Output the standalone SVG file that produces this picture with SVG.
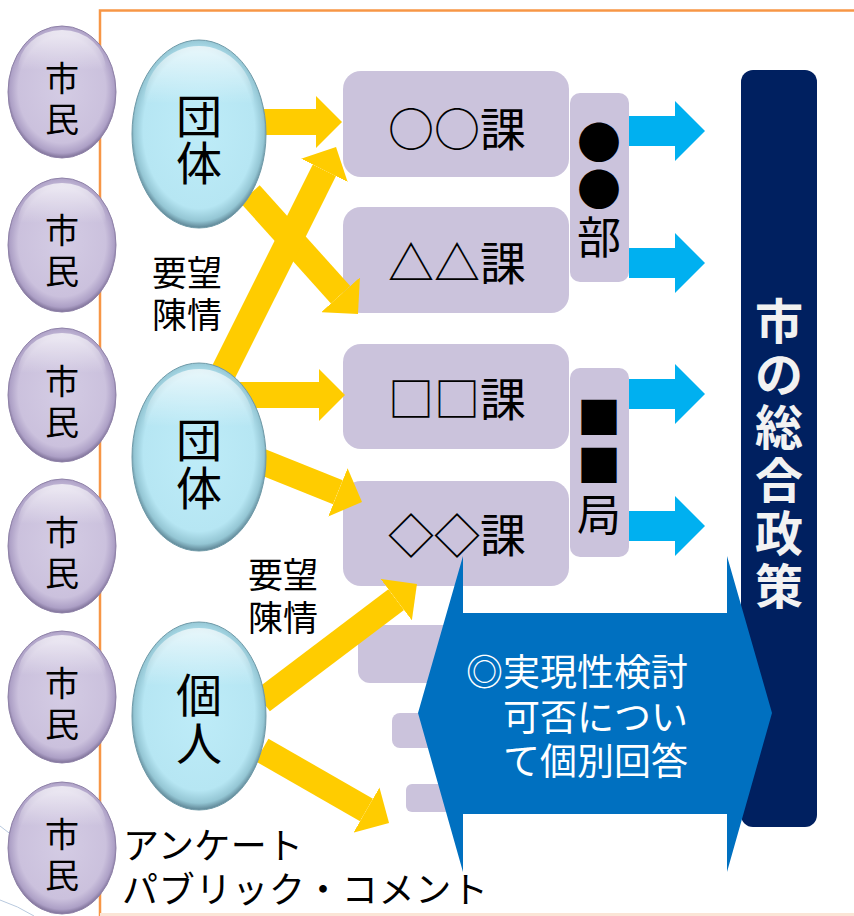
<svg xmlns="http://www.w3.org/2000/svg" width="854" height="916" viewBox="0 0 854 916">
<defs>
<style>
.t{font-family:"Noto Sans CJK JP","Noto Sans",sans-serif;text-anchor:middle;dominant-baseline:central;fill:#000}
.cit{font-size:34px}
.grp{font-size:46px}
.dep{font-size:44px}
.box{fill:#CBC3DC}
.lbl{font-size:35px}
.wt{fill:#FFFFFF;font-size:37px;text-anchor:end}
.nav{fill:#F2F2F2;font-size:48px;font-weight:bold}
.ya{stroke:#FFCC00;stroke-width:26;fill:none;marker-end:url(#yh)}
.ca{stroke:#00B0F0;stroke-width:30;fill:none;marker-end:url(#ch)}
.pe{fill:url(#gp);stroke:#8F82A8;stroke-width:1}
.ce{fill:url(#gc);stroke:#6F9AA8;stroke-width:1}
.hl{fill:url(#gh)}
</style>
<radialGradient id="gp" cx="50%" cy="48%" r="52%">
<stop offset="0" stop-color="#D4CCE4"/>
<stop offset="0.78" stop-color="#CBC1DD"/>
<stop offset="0.93" stop-color="#ADA0C6"/>
<stop offset="1" stop-color="#7D7097"/>
</radialGradient>
<radialGradient id="gc" cx="50%" cy="48%" r="52%">
<stop offset="0" stop-color="#BEECF8"/>
<stop offset="0.8" stop-color="#B6E6F3"/>
<stop offset="0.93" stop-color="#94C6D4"/>
<stop offset="1" stop-color="#5D8494"/>
</radialGradient>
<linearGradient id="gh" x1="0" y1="0" x2="0" y2="1">
<stop offset="0" stop-color="#FFFFFF" stop-opacity="0.7"/>
<stop offset="0.5" stop-color="#FFFFFF" stop-opacity="0"/>
</linearGradient>
<marker id="yh" markerUnits="userSpaceOnUse" markerWidth="26" markerHeight="52" refX="0" refY="26" orient="auto">
<path d="M0,0 L26,26 L0,52 z" fill="#FFCC00"/>
</marker>
<marker id="ch" markerUnits="userSpaceOnUse" markerWidth="30" markerHeight="60" refX="0" refY="30" orient="auto">
<path d="M0,0 L30,30 L0,60 z" fill="#00B0F0"/>
</marker>
</defs>
<rect width="854" height="916" fill="#FFFFFF"/>
<g id="frame">
<path d="M100,916 V10.5 H854" fill="none" stroke="#F79646" stroke-width="2.5"/>
<line x1="100" y1="914.5" x2="854" y2="914.5" stroke="#FBE5D6" stroke-width="3"/>
<path d="M0,826 Q15,836 30,852" fill="none" stroke="#B8C9DE" stroke-width="1"/>
<path d="M0,900 Q18,906 34,916" fill="none" stroke="#B8C9DE" stroke-width="1"/>
</g>
<g id="ghost-boxes">
<rect class="box" x="358" y="625" width="160" height="58" rx="12"/>
<rect class="box" x="392" y="713" width="130" height="35" rx="8"/>
<rect class="box" x="406" y="784" width="120" height="28" rx="6"/>
</g>
<g id="ka1"><rect class="box" x="343" y="71" width="226" height="106" rx="18"/><text class="t grp" x="457" y="126">○○課</text></g>
<g id="ka2"><rect class="box" x="343" y="207" width="226" height="106" rx="18"/><text class="t grp" x="457" y="260">△△課</text></g>
<g id="ka3"><rect class="box" x="343" y="344" width="226" height="105" rx="18"/><text class="t grp" x="457" y="396">□□課</text></g>
<g id="ka4"><rect class="box" x="343" y="481" width="226" height="105" rx="18"/><text class="t grp" x="457" y="532">◇◇課</text></g>
<g id="bu"><rect class="box" x="570" y="93" width="59" height="189" rx="10"/>
<text class="t dep" x="599" y="140">●</text>
<text class="t dep" x="599" y="187">●</text>
<text class="t dep" x="599" y="235">部</text></g>
<g id="kyoku"><rect class="box" x="570" y="368" width="59" height="189" rx="10"/>
<text class="t dep" x="599" y="415">■</text>
<text class="t dep" x="599" y="463">■</text>
<text class="t dep" x="599" y="512">局</text></g>
<g id="policy"><rect x="741" y="70" width="76" height="757" rx="12" fill="#002060"/>
<text class="t nav" x="779" y="318">市</text>
<text class="t nav" x="779" y="371">の</text>
<text class="t nav" x="779" y="424">総</text>
<text class="t nav" x="779" y="477">合</text>
<text class="t nav" x="779" y="530">政</text>
<text class="t nav" x="779" y="583">策</text></g>
<g id="answer">
<path d="M418,713 L463,556 L463,613 L727,613 L727,556 L772,713 L727,872 L727,814 L463,814 L463,872 Z" fill="#0070C0"/>
<text class="t wt" x="688" y="670">◎実現性検討</text>
<text class="t wt" x="688" y="715">可否につい</text>
<text class="t wt" x="688" y="759">て個別回答</text>
</g>
<g id="connectors">
<line class="ya" x1="250" y1="122" x2="316" y2="122"/>
<line class="ya" x1="250" y1="194" x2="340.6" y2="294.7"/>
<line class="ya" x1="222" y1="375" x2="324.4" y2="170.3"/>
<line class="ya" x1="240" y1="395" x2="319" y2="395"/>
<line class="ya" x1="255" y1="459" x2="337.9" y2="492.3"/>
<line class="ya" x1="262" y1="701" x2="396.2" y2="599.6"/>
<line class="ya" x1="262" y1="750" x2="366.5" y2="810"/>
<line class="ca" x1="629" y1="131" x2="675" y2="131"/>
<line class="ca" x1="629" y1="263" x2="675" y2="263"/>
<line class="ca" x1="629" y1="394" x2="675" y2="394"/>
<line class="ca" x1="629" y1="526" x2="675" y2="526"/>
</g>
<g id="shimin1"><ellipse class="pe" cx="62" cy="92" rx="54" ry="66"/><ellipse class="hl" cx="62" cy="70" rx="44" ry="40"/><text class="t cit" x="62" y="76">市</text><text class="t cit" x="62" y="117">民</text></g>
<g id="shimin2"><ellipse class="pe" cx="62" cy="245" rx="54" ry="67"/><ellipse class="hl" cx="62" cy="223" rx="44" ry="40"/><text class="t cit" x="62" y="228">市</text><text class="t cit" x="62" y="269">民</text></g>
<g id="shimin3"><ellipse class="pe" cx="62" cy="395" rx="54" ry="67"/><ellipse class="hl" cx="62" cy="373" rx="44" ry="40"/><text class="t cit" x="62" y="379">市</text><text class="t cit" x="62" y="420">民</text></g>
<g id="shimin4"><ellipse class="pe" cx="62" cy="546" rx="54" ry="67"/><ellipse class="hl" cx="62" cy="524" rx="44" ry="40"/><text class="t cit" x="62" y="530">市</text><text class="t cit" x="62" y="571">民</text></g>
<g id="shimin5"><ellipse class="pe" cx="62" cy="697" rx="54" ry="66"/><ellipse class="hl" cx="62" cy="675" rx="44" ry="40"/><text class="t cit" x="62" y="681">市</text><text class="t cit" x="62" y="722">民</text></g>
<g id="shimin6"><ellipse class="pe" cx="62" cy="848" rx="54" ry="66"/><ellipse class="hl" cx="62" cy="826" rx="44" ry="40"/><text class="t cit" x="62" y="832">市</text><text class="t cit" x="62" y="873">民</text></g>
<g id="dantai1"><ellipse class="ce" cx="199" cy="134" rx="67" ry="94"/><ellipse class="hl" cx="199" cy="104" rx="55" ry="58"/><text class="t grp" x="199" y="113">団</text><text class="t grp" x="199" y="160">体</text></g>
<g id="dantai2"><ellipse class="ce" cx="199" cy="457" rx="67" ry="94"/><ellipse class="hl" cx="199" cy="427" rx="55" ry="58"/><text class="t grp" x="199" y="437">団</text><text class="t grp" x="199" y="485">体</text></g>
<g id="kojin"><ellipse class="ce" cx="199" cy="716" rx="67" ry="94"/><ellipse class="hl" cx="199" cy="686" rx="55" ry="58"/><text class="t grp" x="199" y="692">個</text><text class="t grp" x="199" y="740">人</text></g>
<g id="labels">
<text class="t lbl" x="187" y="270">要望</text>
<text class="t lbl" x="187" y="312">陳情</text>
<text class="t lbl" x="283" y="572">要望</text>
<text class="t lbl" x="283" y="615">陳情</text>
<text class="t lbl" x="123" y="843" style="text-anchor:start;font-size:36px" textLength="180" lengthAdjust="spacing">アンケート</text>
<text class="t lbl" x="122" y="887" style="text-anchor:start;font-size:36px" textLength="366" lengthAdjust="spacing">パブリック・コメント</text>
</g>
</svg>
